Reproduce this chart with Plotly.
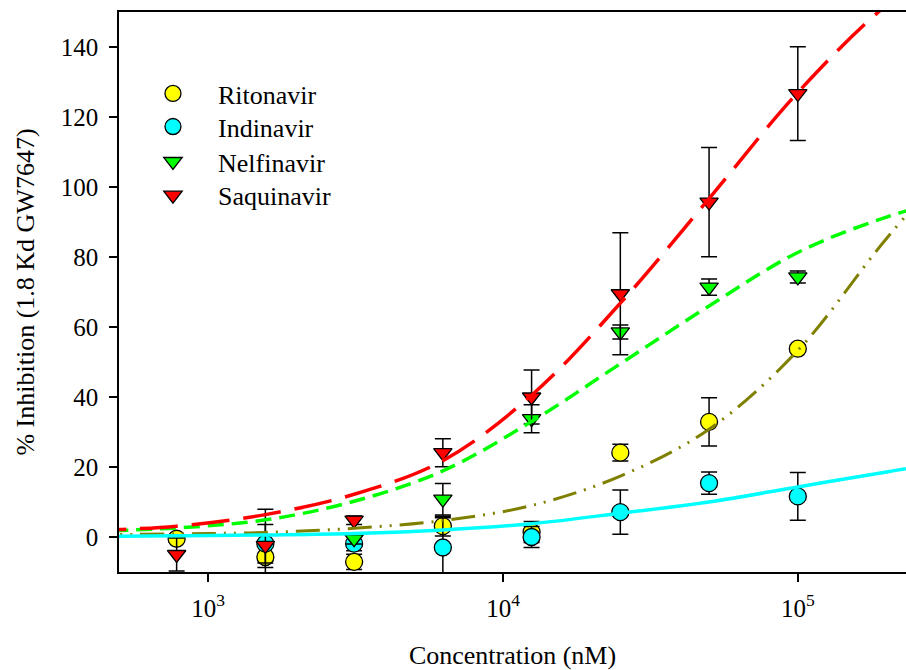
import plotly.graph_objects as go

# ---- data ----
conc = [781.25, 1562.5, 3125, 6250, 12500, 25000, 50000, 100000]

rito_x = conc
rito_y = [-0.5, -5.7, -7.1, 3.1, 1.4, 24.1, 32.9, 53.8]
rito_e = [1.0, 3.0, 2.2, 2.8, 3.0, 2.4, 6.9, 1.0]

indi_x = [1562.5, 3125, 6250, 12500, 25000, 50000, 100000]
indi_y = [-1.9, -1.9, -3.0, 0.0, 7.1, 15.4, 11.6]
indi_e = [5.5, 2.0, 8.5, 3.0, 6.3, 3.2, 6.8]

nelf_x = [3125, 6250, 12500, 25000, 50000, 100000]
nelf_y = [-0.5, 10.8, 33.8, 58.6, 71.4, 74.3]
nelf_e = [1.5, 4.5, 4.0, 2.0, 2.3, 1.7]

saqu_x = conc
saqu_y = [-5.0, -2.4, 4.8, 24.1, 40.0, 69.5, 95.7, 126.7]
saqu_e = [4.7, 10.3, 1.2, 4.0, 7.7, 17.4, 15.6, 13.4]

# fitted curves at these concentrations
fit_x = [390.625, 781.25, 1562.5, 3125, 6250, 12500, 25000, 50000, 100000, 200000, 400000]
rito_fit_y = [0.6, 0.9, 1.3, 2.5, 4.7, 9.0, 17.4, 30.8, 53.3, 85.3, 114.0]
indi_fit_y = [0.15, 0.35, 0.6, 1.0, 2.0, 3.8, 6.8, 10.0, 14.3, 18.6, 22.5]
nelf_fit_y = [1.6, 2.6, 4.9, 10.2, 18.9, 33.0, 49.5, 66.0, 81.3, 91.4, 98.5]
saqu_fit_y = [1.8, 3.1, 6.4, 12.2, 21.8, 40.5, 66.8, 96.7, 127.0, 152.0, 170.0]

x_tickvals = [1e3, 1e4, 1e5]
x_ticktext = ["10<sup>3</sup>", "10<sup>4</sup>", "10<sup>5</sup>"]
y_tickvals = [0, 20, 40, 60, 80, 100, 120, 140]

FONT = "Liberation Serif, Times New Roman, serif"

fig = go.Figure()

def pts(name, x, y, e, color, symbol, size, legend):
    fig.add_trace(go.Scatter(
        x=x, y=y, mode="markers", name=name, legend=legend,
        marker=dict(symbol=symbol, size=size, color=color,
                    line=dict(color="black", width=1.3)),
        error_y=dict(type="data", array=e, visible=True, color="black",
                     thickness=1.5, width=8),
    ))

def curve(x, y, color, dash, width):
    fig.add_trace(go.Scatter(
        x=x, y=y, mode="lines", showlegend=False, hoverinfo="skip",
        line=dict(color=color, dash=dash, width=width, shape="spline", smoothing=1.0),
    ))

pts("Ritonavir", rito_x, rito_y, rito_e, "#FFFF00", "circle", 17, "legend")
pts("Indinavir", indi_x, indi_y, indi_e, "#00FFFF", "circle", 17, "legend2")
pts("Nelfinavir", nelf_x, nelf_y, nelf_e, "#00FF00", "triangle-down", 16, "legend3")
pts("Saquinavir", saqu_x, saqu_y, saqu_e, "#FF0000", "triangle-down", 16, "legend4")

curve(fit_x, rito_fit_y, "#808000", "24px,8px,2px,8px,2px,8px", 3)
curve(fit_x, indi_fit_y, "#00FFFF", "solid", 3.5)
curve(fit_x, nelf_fit_y, "#00FF00", "16px,8px", 3.5)
curve(fit_x, saqu_fit_y, "#FF0000", "38px,14px", 3.5)

def leg(y):
    return dict(
        x=0.0114, y=y, xanchor="left", yanchor="top",
        bgcolor="rgba(0,0,0,0)", borderwidth=0,
        font=dict(family=FONT, size=26, color="black"),
        itemwidth=80,
    )

fig.update_layout(
    width=906, height=670,
    margin=dict(l=119, r=0, t=12, b=98, autoexpand=False),
    paper_bgcolor="white", plot_bgcolor="white",
    font=dict(family=FONT, size=25, color="black"),
    showlegend=True,
    legend=leg(0.8963),
    legend2=leg(0.8373),
    legend3=leg(0.7748),
    legend4=leg(0.7146),
    xaxis=dict(
        type="log", range=[2.6973, 5.367],
        tickvals=x_tickvals, ticktext=x_ticktext,
        showline=True, linecolor="black", linewidth=1.5, mirror=True,
        ticks="outside", ticklen=8, tickwidth=1.5, tickcolor="black",
        showgrid=False, zeroline=False, ticklabelstandoff=5,
        tickfont=dict(family=FONT, size=25),
        title=dict(text="Concentration (nM)", font=dict(family=FONT, size=26), standoff=25),
        automargin=False,
    ),
    yaxis=dict(
        range=[-10, 150], tickvals=y_tickvals,
        showline=True, linecolor="black", linewidth=1.5,
        ticks="outside", ticklen=8, tickwidth=1.5, tickcolor="black",
        showgrid=False, zeroline=False, ticklabelstandoff=6,
        tickfont=dict(family=FONT, size=25),
        title=dict(text="% Inhibition (1.8 Kd GW7647)", font=dict(family=FONT, size=26), standoff=19),
        automargin=False,
    ),
)

fig.write_html("out.html")
